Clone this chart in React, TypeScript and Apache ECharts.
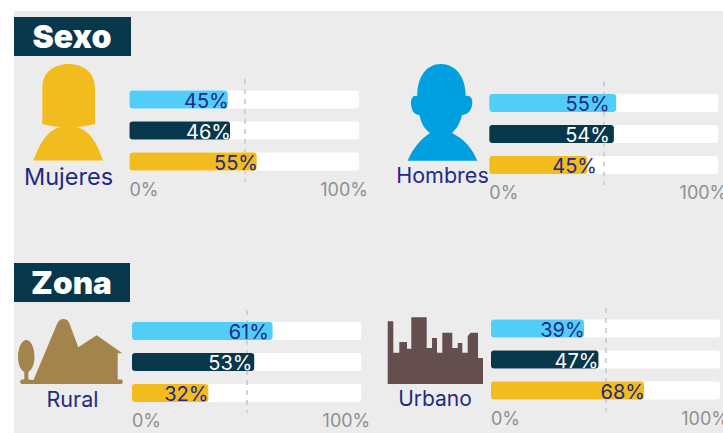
import React, { useEffect, useRef } from "react";
import * as echarts from "echarts";

const rowNames = ["Grupo 1", "Grupo 2", "Grupo 3"];
const tickValues = [0, 50, 100];
const panelNames = ["Mujeres", "Hombres", "Rural", "Urbano"];
const sectionTitles = ["Sexo", "Zona"];

// Printed percentages
const mujeresLabels = [45, 46, 55];
const hombresLabels = [55, 54, 45];
const ruralLabels = [61, 53, 32];
const urbanoLabels = [39, 47, 68];

// Bar lengths as measured in the picture (they differ slightly from the printed figures)
const mujeresBars = [42.8, 43.8, 55.4];
const hombresBars = [55.4, 54.4, 42.8];
const ruralBars = [61.3, 53.3, 33.3];
const urbanoBars = [40.6, 46.9, 66.8];
const trackValues = [100, 100, 100];

const BAR_COLORS = ["#52cdf7", "#07374a", "#f2bc1f"];
const LABEL_COLORS = ["#1f2a85", "#ffffff", "#1f2a85"];
const GREY = "#ececec";
const INK = "#1f2a85";

const layouts = [
  { left: 129.5, width: 229.5, barTop: 84, lineTop: 79, lineBottom: 182, labels: mujeresLabels, bars: mujeresBars, nudge: [1, 1, 1.3] },
  { left: 489.3, width: 229, barTop: 87.5, lineTop: 81.5, lineBottom: 185, labels: hombresLabels, bars: hombresBars, nudge: [-6.6, -4, 9.7] },
  { left: 132, width: 229.3, barTop: 315.5, lineTop: 310, lineBottom: 413, labels: ruralLabels, bars: ruralBars, nudge: [-3.7, -1.7, 0] },
  { left: 491, width: 229, barTop: 313, lineTop: 308, lineBottom: 411.5, labels: urbanoLabels, bars: urbanoBars, nudge: [0.7, 0, 1] },
];

const WOMAN =
  "M42.3 88 C42.3 73 53 64 68.5 64 C84 64 95 73 95 88 L95 124 C88 126 80 127 76 127 C91 130 98 146 103 160.5 L33.5 160.5 C39 146 46 130 61 127 C56 127 49 126 42.3 124 Z";
const MAN =
  "M440.7 64 C455 64 465.7 76 465.7 96 C470 95 472.5 98 472.3 103 C472 110 468 115 462 115 C460 124 456 129 452 133 C464 139 472 148 477.3 160.7 L407.7 160.7 C413 148 421 139 430 133 C425 129 421 124 419.5 115 C414 115 411 110 411 103 C411 98 413 95 417.3 96 C417.3 76 427 64 440.7 64 Z";
const RURAL =
  "M33.5 380 L57 324 C59 320 61 319 63.5 319 C67 319 69 321 70 325 L78.3 347.3 L96.7 335.3 L122.3 353.3 L117.7 353.3 L117.7 379.5 L121 379.5 C123.5 380 123.5 384 121 384 L22 384 C19.5 384 19.5 379.5 22 379.5 L24.3 379.5 L24.3 372 C20.5 370 18 364 18 357 C18 347 22 340 26.3 340 C30.5 340 34.5 347 34.5 357 C34.5 364 32 370 28.3 372 L28.3 379.5 Z";
const URBAN =
  "M387.7 384 L387.7 321.3 L393.3 321.3 L393.3 352.7 L399.3 352.7 L399.3 342 L407 342 L407 348.7 L411.3 348.7 L411.3 317.3 L426.7 317.3 L426.7 348 L432 348 L432 338 L437 338 L437 352.7 L442.3 352.7 L442.3 332.7 L452.3 332.7 L452.3 348 L457.7 348 L457.7 343 L462.3 343 L462.3 352.7 L467.7 352.7 L467.7 336 L470.7 332.7 L478 332.7 L478 358 L483 358 L483 384 Z";

echarts.graphic.registerShape("iconWoman", echarts.graphic.extendPath(WOMAN, {}));
echarts.graphic.registerShape("iconMan", echarts.graphic.extendPath(MAN, {}));
echarts.graphic.registerShape("iconRural", echarts.graphic.extendPath(RURAL, {}));
echarts.graphic.registerShape("iconUrban", echarts.graphic.extendPath(URBAN, {}));

function buildOption() {
  const grid: any[] = [];
  const xAxis: any[] = [];
  const yAxis: any[] = [];
  const series: any[] = [];

  layouts.forEach((p) => {
    const barGrid = grid.length;
    grid.push({ left: p.left, width: p.width, top: p.barTop, height: 93, outerBoundsMode: "none" });
    xAxis.push({ gridIndex: barGrid, type: "value", min: 0, max: 100, show: false });
    yAxis.push({ gridIndex: barGrid, type: "category", data: rowNames, inverse: true, show: false });

    const lineGrid = grid.length;
    grid.push({ left: p.left, width: p.width, top: p.lineTop, height: p.lineBottom - p.lineTop, outerBoundsMode: "none" });
    xAxis.push({
      gridIndex: lineGrid,
      type: "value",
      min: tickValues[0],
      max: tickValues[2],
      interval: tickValues[1],
      z: 2,
      axisLine: { show: false },
      axisTick: { show: false },
      splitLine: {
        show: true,
        showMinLine: false,
        showMaxLine: false,
        lineStyle: { color: "#c6c6c6", width: 1.5, type: [5, 5] },
      },
      axisLabel: {
        margin: -2,
        color: "#8f8f8f",
        fontFamily: "Inter",
        fontSize: 18,
        alignMinLabel: "left",
        alignMaxLabel: "right",
        padding: [0, -9, 0, 0],
        hideOverlap: false,
        formatter: (v: number) => (v === tickValues[1] ? "" : v + "%"),
      },
    });
    yAxis.push({ gridIndex: lineGrid, type: "category", data: rowNames, show: false });

    series.push({
      type: "bar",
      xAxisIndex: barGrid,
      yAxisIndex: barGrid,
      z: 1,
      barWidth: 18,
      barGap: "-100%",
      silent: true,
      itemStyle: { color: "#ffffff", borderRadius: 3 },
      data: trackValues,
    });
    series.push({
      type: "bar",
      xAxisIndex: barGrid,
      yAxisIndex: barGrid,
      z: 3,
      barWidth: 18,
      barGap: "-100%",
      data: p.bars.map((value, i) => ({
        value,
        itemStyle: { color: BAR_COLORS[i], borderRadius: 3 },
        label: {
          show: true,
          position: "insideRight",
          distance: 0,
          offset: [p.nudge[i], 1],
          color: LABEL_COLORS[i],
          fontFamily: "Inter",
          fontSize: 20,
          formatter: p.labels[i] + "%",
        },
      })),
    });
  });

  const titleEl = (text: string, x: number, y: number, w: number, h: number, size: number) => [
    { type: "rect", z: 1, shape: { x, y, width: w, height: h }, style: { fill: "#07374a" } },
    {
      type: "text",
      z: 2,
      x: x + w / 2 - 0.5,
      y: y + h / 2,
      style: {
        text,
        fill: "#ffffff",
        font: `900 ${size}px Inter`,
        textAlign: "center",
        textVerticalAlign: "middle",
      },
    },
  ];

  const nameEl = (text: string, x: number, y: number, size: number) => ({
    type: "text",
    z: 2,
    x,
    y,
    style: {
      text,
      fill: INK,
      font: `400 ${size}px Inter`,
      textAlign: "center",
      textVerticalAlign: "middle",
    },
  });

  const elements: any[] = [
    { type: "rect", z: -10, shape: { x: 14, y: 11, width: 709, height: 422 }, style: { fill: GREY } },
    ...titleEl(sectionTitles[0], 14, 17, 117, 39, 32),
    ...titleEl(sectionTitles[1], 14, 263, 116, 39, 31.5),
    { type: "iconWoman", z: 2, style: { fill: "#f2bc1f" } },
    { type: "iconMan", z: 2, style: { fill: "#009fe0" } },
    { type: "iconRural", z: 2, style: { fill: "#a3844c" } },
    { type: "iconUrban", z: 2, style: { fill: "#654e4e" } },
    nameEl(panelNames[0], 68.5, 176, 23.5),
    nameEl(panelNames[1], 442.5, 175, 21.5),
    nameEl(panelNames[2], 72.5, 398.5, 21.5),
    nameEl(panelNames[3], 435, 398.5, 21),
  ];

  return {
    animation: false,
    backgroundColor: "#ffffff",
    grid,
    xAxis,
    yAxis,
    series,
    graphic: { elements },
  };
}

export default function App() {
  const ref = useRef<HTMLDivElement>(null);
  useEffect(() => {
    const chart = echarts.init(ref.current!, undefined, { renderer: "svg" });
    chart.setOption(buildOption() as any);
    return () => chart.dispose();
  }, []);
  return (
    <div
      ref={ref}
      style={{ position: "fixed", left: 0, top: 0, width: 723, height: 433 }}
    />
  );
}
